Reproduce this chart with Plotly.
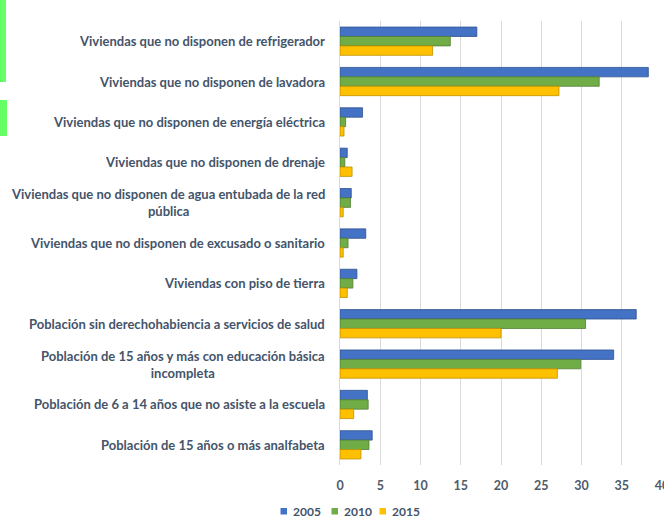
import plotly.graph_objects as go

categories = [
    "Viviendas que no disponen de refrigerador",
    "Viviendas que no disponen de lavadora",
    "Viviendas que no disponen de energía eléctrica",
    "Viviendas que no disponen de drenaje",
    "Viviendas que no disponen de agua entubada de la red<br>pública",
    "Viviendas que no disponen de excusado o sanitario",
    "Viviendas con piso de tierra",
    "Población sin derechohabiencia a servicios de salud",
    "Población de 15 años y más con educación básica<br>incompleta",
    "Población de 6 a 14 años que no asiste a la escuela",
    "Población de 15 años o más analfabeta",
]
y2005 = [17.0, 38.3, 2.8, 0.9, 1.4, 3.2, 2.1, 36.8, 34.0, 3.4, 4.0]
y2010 = [13.7, 32.2, 0.7, 0.6, 1.3, 1.0, 1.6, 30.5, 29.9, 3.5, 3.6]
y2015 = [11.5, 27.2, 0.5, 1.5, 0.4, 0.4, 0.9, 20.0, 27.0, 1.7, 2.6]
series_names = ["2005", "2010", "2015"]
x_ticks = [0, 5, 10, 15, 20, 25, 30, 35, 40]

colors = ["#4472C4", "#70AD47", "#FFC000"]
edges = ["#2F528F", "#507E32", "#BF9000"]
text_color = "#44546A"

W, H = 664, 519
L, R, T, B = 340, 2, 21, 54
pw, ph = W - L - R, H - T - B

def px2paper(px, py):
    return (px - L) / pw, 1 - (py - T) / ph

fig = go.Figure()
for name, vals, c, e in zip(series_names, [y2005, y2010, y2015], colors, edges):
    fig.add_trace(go.Bar(
        y=categories, x=vals, name=name, orientation="h",
        marker=dict(color=c, line=dict(color=e, width=0.8)),
        showlegend=False,
    ))

annotations = []
for cat in categories:
    annotations.append(dict(
        x=-13 / pw, xref="paper", y=cat, yref="y", text=cat,
        xanchor="right", yanchor="middle", align="center", showarrow=False,
        font=dict(family="Lato", size=13, color=text_color, weight="bold"),
    ))

shapes = []
# custom legend
leg_sq_x = [280.5, 331.5, 379.5]
for name, c, sx in zip(series_names, colors, leg_sq_x):
    x0, y0 = px2paper(sx, 508)
    x1, y1 = px2paper(sx + 6.5, 514.5)
    shapes.append(dict(type="rect", xref="paper", yref="paper", x0=x0, x1=x1,
                       y0=y0, y1=y1, fillcolor=c, line=dict(width=0)))
    tx, ty = px2paper(sx + 10.5, 511.5)
    annotations.append(dict(x=tx, y=ty, xref="paper", yref="paper", text=name,
                            xanchor="left", yanchor="middle", showarrow=False,
                            font=dict(family="Lato", size=12, color=text_color, weight="bold")))

# green artifact on the left edge
for (ya, yb, wd) in [(0, 82, 6), (100, 136, 7)]:
    x0, y0 = px2paper(0, yb)
    x1, y1 = px2paper(wd, ya)
    shapes.append(dict(type="rect", xref="paper", yref="paper", x0=x0, x1=x1,
                       y0=y0, y1=y1, fillcolor="#66FF66", line=dict(width=0)))

fig.update_layout(
    width=W, height=H,
    margin=dict(l=L, r=R, t=T, b=B, pad=0),
    barmode="group", bargap=0.3, bargroupgap=0,
    plot_bgcolor="white", paper_bgcolor="white",
    annotations=annotations, shapes=shapes,
    xaxis=dict(range=[0, 40], tickvals=x_ticks, showgrid=True, gridcolor="#D9D9D9",
               gridwidth=1, zeroline=False, showline=False, ticks="",
               ticklabelstandoff=11, ticklabeloverflow="allow", automargin=False,
               tickfont=dict(family="Lato", size=12.5, color="#505A6B", weight="bold")),
    yaxis=dict(autorange="reversed", showticklabels=False, showgrid=False,
               zeroline=False, showline=True, linecolor="#D9D9D9", ticks="",
               automargin=False),
)

fig.write_html("out.html", config={"displayModeBar": False},
               post_script="document.body.style.margin='0';document.body.style.overflow='hidden';")
